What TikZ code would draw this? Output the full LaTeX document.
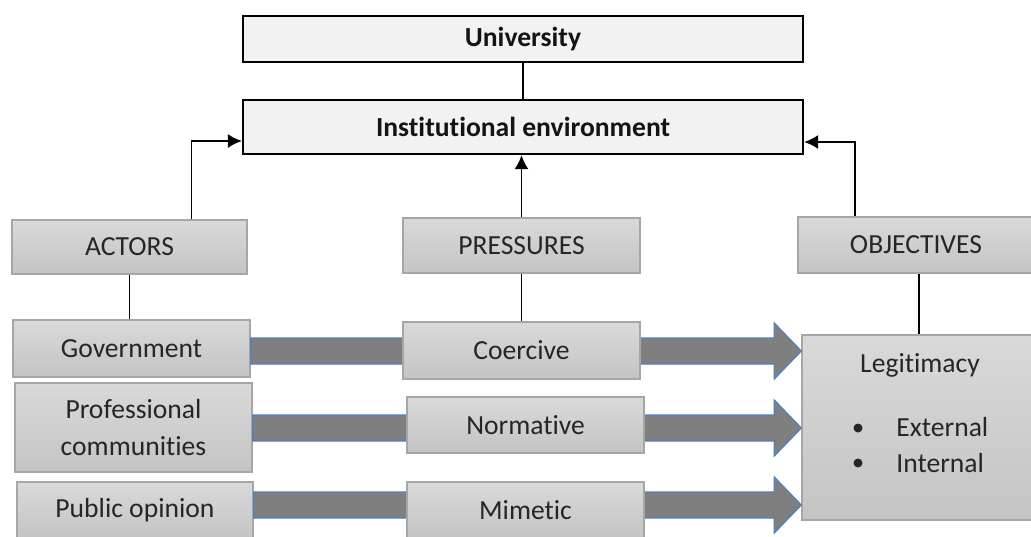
\documentclass[tikz,border=0pt]{standalone}
\usepackage{fontspec}
\setmainfont{Carlito}[Ligatures={NoCommon}]
\usetikzlibrary{arrows.meta,calc}
\definecolor{boxtop}{RGB}{217,217,217}
\definecolor{boxbot}{RGB}{196,196,196}
\definecolor{boxline}{RGB}{166,166,166}
\definecolor{toptxt}{RGB}{20,20,20}
\definecolor{txt}{RGB}{38,38,38}
\definecolor{arrfill}{RGB}{127,127,127}
\definecolor{arrline}{RGB}{79,129,189}
\definecolor{topfill}{RGB}{242,242,242}
\tikzset{
  graybox/.style={draw=boxline, line width=0.7pt, top color=boxtop, bottom color=boxbot,
    text=txt, font=\fontsize{13.8}{16.5}\selectfont, align=center, inner sep=0pt},
  topbox/.style={draw=black, line width=1.1pt, fill=topfill, text=toptxt,
    font=\fontsize{13.8}{16.5}\selectfont\bfseries, inner sep=0pt},
  conn/.style={line width=0.9pt, black},
  conarr/.style={conn, -{Latex[length=7pt,width=7pt]}},
  bigarrow/.style={fill=arrfill, draw=arrline, line width=0.6pt, line join=miter},
  plain/.style={text=txt, font=\fontsize{13.8}{16.5}\selectfont, inner sep=0pt}
}
\newcommand{\bigarr}[2]{%
  \draw[bigarrow] ($(#1.east |- #2)+(0,-13)$) -- ($(leg.west |- #2)+(-27,-13)$)
    -- ($(leg.west |- #2)+(-27,-28)$) -- (leg.west |- #2)
    -- ($(leg.west |- #2)+(-27,28)$) -- ($(leg.west |- #2)+(-27,13)$)
    -- ($(#1.east |- #2)+(0,13)$) -- cycle;}
\begin{document}
\begin{tikzpicture}[x=0.5pt,y=-0.5pt]
\useasboundingbox (0,0) rectangle (1031,536);
% top boxes
\node[topbox, minimum width=280pt, minimum height=23pt] (uni) at (523,39) {University};
\node[topbox, minimum width=280pt, minimum height=27pt] (inst) at (523,127) {Institutional environment};
% category boxes
\node[graybox, minimum width=117.5pt, minimum height=27pt] (actors) at (129.5,247) {ACTORS};
\node[graybox, minimum width=118.5pt, minimum height=27.5pt] (press) at (521.5,245.5) {PRESSURES};
\node[graybox, minimum width=121pt, minimum height=28pt] (obj) at (919,245) {};
\node[plain] at (916,245) {OBJECTIVES};
% legitimacy
\node[graybox, minimum width=119pt, minimum height=92.5pt] (leg) at (921,427.5) {};
% row coordinates
\coordinate (r1) at (0,351);
\coordinate (r2) at (0,428);
\coordinate (r3) at (0,505);
% actor boxes
\node[graybox, minimum width=118.5pt, minimum height=28.5pt] (gov) at (131.5,348.5) {Government};
\node[graybox, minimum width=118.5pt, minimum height=44.5pt] (prof) at (133.5,427.5) {Professional\\[2pt]communities};
\node[graybox, minimum width=118pt, minimum height=28pt] (pub) at (135,510) {Public opinion};
% big arrows (behind pressure boxes)
\bigarr{gov}{r1}
\bigarr{prof}{r2}
\bigarr{pub}{r3}
% pressure boxes
\node[graybox, minimum width=118.5pt, minimum height=28.5pt] (coer) at (521.5,350.5) {Coercive};
\node[graybox, minimum width=118.5pt, minimum height=28pt] (norm) at (525.5,425) {Normative};
\node[graybox, minimum width=118.5pt, minimum height=28pt] (mim) at (525.5,510) {Mimetic};
% legitimacy texts
\node[plain] (legt) at (920,365) {Legitimacy};
\node[plain, anchor=west] (ext) at (896,427) {External};
\node[plain, anchor=west] (int) at (896,463) {Internal};
\fill[txt] (858,428) circle (4.5);
\fill[txt] (858,463) circle (4.5);
% connectors
\draw[conn] (uni.south) -- (inst.north);
\draw[conarr] ($(actors.north)+(62,0)$) |- ($(inst.west)+(0,14)$);
\draw[conarr] (press.north) -- (press.north |- inst.south);
\draw[conarr] ($(obj.north west)+(58,0)$) |- ($(inst.east)+(0,15)$);
\draw[conn] (actors.south) -- (actors.south |- gov.north);
\draw[conn] (press.south) -- (press.south |- coer.north);
\draw[conn] (obj.south) -- (obj.south |- leg.north);
\end{tikzpicture}
\end{document}
